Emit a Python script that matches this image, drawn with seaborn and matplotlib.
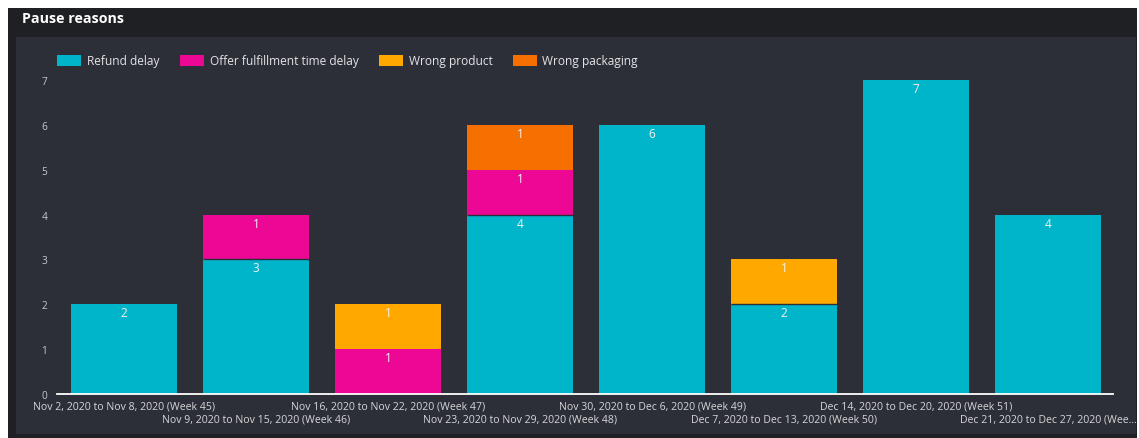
import matplotlib
matplotlib.use("Agg")
import matplotlib.pyplot as plt
import matplotlib.patches as mpatches
import seaborn as sns
import numpy as np
import pandas as pd

weeks = [
    "Nov 2, 2020 to Nov 8, 2020 (Week 45)",
    "Nov 9, 2020 to Nov 15, 2020 (Week 46)",
    "Nov 16, 2020 to Nov 22, 2020 (Week 47)",
    "Nov 23, 2020 to Nov 29, 2020 (Week 48)",
    "Nov 30, 2020 to Dec 6, 2020 (Week 49)",
    "Dec 7, 2020 to Dec 13, 2020 (Week 50)",
    "Dec 14, 2020 to Dec 20, 2020 (Week 51)",
    "Dec 21, 2020 to Dec 27, 2020 (Wee...",
]
refund_delay = [2, 3, 0, 4, 6, 2, 7, 4]
offer_fulfillment_delay = [0, 1, 1, 1, 0, 0, 0, 0]
wrong_product = [0, 0, 1, 0, 0, 1, 0, 0]
wrong_packaging = [0, 0, 0, 1, 0, 0, 0, 0]

series_names = ["Refund delay", "Offer fulfillment time delay", "Wrong product", "Wrong packaging"]
series_values = [refund_delay, offer_fulfillment_delay, wrong_product, wrong_packaging]
colors = ["#00b5c9", "#ec0895", "#ffa800", "#f57000"]

BG_CARD = "#1f2024"
BG_BODY = "#2c2f38"
FONT = ["Open Sans", "DejaVu Sans"]
plt.rcParams["font.family"] = FONT

W, H = 1139, 439
fig = plt.figure(figsize=(W / 100, H / 100), dpi=100)
fig.patch.set_facecolor("white")

def px_rect(x0, y0, x1, y1, color):
    fig.patches.append(mpatches.Rectangle((x0 / W, 1 - y1 / H), (x1 - x0) / W, (y1 - y0) / H,
                                          transform=fig.transFigure, facecolor=color,
                                          edgecolor="none", zorder=-5))

# card header and body
px_rect(8, 9, 1137, 439, BG_CARD)
px_rect(16, 38, 1136, 435, BG_BODY)
fig.text(22 / W, 1 - 19 / H, "Pause reasons", color="white", fontsize=10.3,
         fontweight="bold", va="center", ha="left")

ax = fig.add_axes([57 / W, 1 - 395 / H, (1113 - 57) / W, (395 - 72) / H])
ax.set_facecolor("none")
ax.set_zorder(2)

df = pd.DataFrame({"week": weeks})
bottom = np.zeros(len(weeks))
for name, vals, col in zip(series_names, series_values, colors):
    vals = np.array(vals, dtype=float)
    df["value"] = vals
    sns.barplot(data=df, x="week", y="value", color=col, width=0.8, bottom=bottom,
                ax=ax, label=name, saturation=1, linewidth=0)
    for i, v in enumerate(vals):
        if v > 0:
            ax.text(i, bottom[i] + v - 0.19, f"{int(v)}", ha="center", va="center",
                    color="#f2f2f2", fontsize=8.5, zorder=5)
    bottom = bottom + vals

# thin separator on top of the refund segment where other reasons are stacked above
refund = np.array(refund_delay, dtype=float)
for i in range(len(weeks)):
    if refund[i] > 0 and bottom[i] > refund[i]:
        ax.hlines(refund[i], i - 0.4, i + 0.4, color=BG_BODY, linewidth=1.0, zorder=4)

ax.set_xlim(-0.508, 7.49)
ax.set_ylim(0, 7.2)
ax.set_yticks(range(0, 8))
ax.set_xlabel("")
ax.set_ylabel("")
for s in ["top", "right", "left"]:
    ax.spines[s].set_visible(False)
ax.spines["bottom"].set_color("white")
ax.spines["bottom"].set_linewidth(1.3)
ax.spines["bottom"].set_zorder(6)
ax.tick_params(axis="y", length=0, colors="#c9c9cc", labelsize=7.3, pad=7)
ax.tick_params(axis="x", length=0, colors="#d6d6d8", labelsize=7.6)
ax.set_xticks(range(len(weeks)))
ax.set_xticklabels([""] * len(weeks))
for i, lab in enumerate(weeks):
    ax.annotate(lab, xy=(i, 0), xycoords=("data", "axes fraction"),
                xytext=(0, -12 if i % 2 == 0 else -25), textcoords="offset pixels",
                ha="center", va="center", color="#d6d6d8", fontsize=7.6)

leg_handles = [mpatches.Patch(facecolor=c, label=n) for n, c in zip(series_names, colors)]
if ax.get_legend() is not None:
    ax.get_legend().remove()
fig.legend(handles=leg_handles, loc="center left", bbox_to_anchor=(57 / W, 1 - 62 / H),
           ncol=4, frameon=False, fontsize=8.6, labelcolor="#e4e4e6",
           borderpad=0, borderaxespad=0,
           handlelength=2.0, handleheight=1.0, handletextpad=0.5, columnspacing=1.7)

fig.savefig("out.png", dpi=100, facecolor=fig.get_facecolor())
